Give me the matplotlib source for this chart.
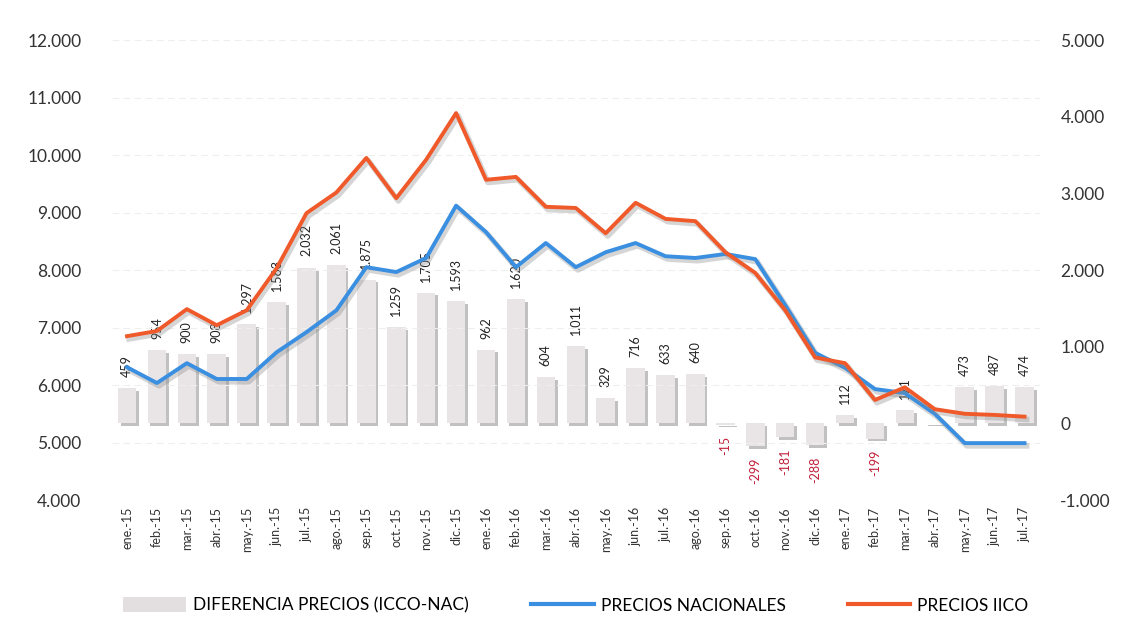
import matplotlib
matplotlib.use("Agg")
import matplotlib.pyplot as plt
import matplotlib.patheffects as pe
from matplotlib.ticker import FuncFormatter, MultipleLocator
from matplotlib.patches import Patch
from matplotlib.lines import Line2D

months = ["ene.-15", "feb.-15", "mar.-15", "abr.-15", "may.-15", "jun.-15", "jul.-15",
          "ago.-15", "sep.-15", "oct.-15", "nov.-15", "dic.-15", "ene.-16", "feb.-16",
          "mar.-16", "abr.-16", "may.-16", "jun.-16", "jul.-16", "ago.-16", "sep.-16",
          "oct.-16", "nov.-16", "dic.-16", "ene.-17", "feb.-17", "mar.-17", "abr.-17",
          "may.-17", "jun.-17", "jul.-17"]

diferencia = [459, 954, 900, 908, 1297, 1583, 2032, 2061, 1875, 1259, 1705, 1593, 962,
              1620, 604, 1011, 329, 716, 633, 640, -15, -299, -181, -288, 112, -199,
              171, 9, 473, 487, 474]

nacionales = [6310, 6035, 6380, 6105, 6105, 6570, 6920, 7300, 8050, 7965, 8210, 9120,
              8660, 8050, 8470, 8050, 8310, 8470, 8240, 8210, 8280, 8190, 7390, 6560,
              6300, 5930, 5860, 5500, 4990, 4990, 4990]

iico = [6850, 6940, 7320, 7040, 7300, 8030, 8990, 9350, 9950, 9250, 9920, 10730, 9570,
        9620, 9100, 9080, 8640, 9170, 8890, 8850, 8310, 7950, 7300, 6480, 6380, 5740,
        5960, 5580, 5500, 5480, 5450]

plt.rcParams['font.family'] = ['Lato', 'DejaVu Sans']

fig = plt.figure(figsize=(11.25, 6.36), dpi=100)
ax_bar = fig.add_axes([0.0996, 0.2138, 0.8244, 0.7232])
ax_line = ax_bar.twinx()

x = list(range(len(months)))

def fmt(v, pos):
    return f"{int(round(v)):,}".replace(",", ".")

# Bars (right axis)
ax_bar.bar(x, diferencia, width=0.62, color="#e9e5e6", zorder=2,
           path_effects=[pe.SimplePatchShadow(offset=(2, -2), shadow_rgbFace="#777777", alpha=0.45),
                         pe.Normal()])
ax_bar.set_ylim(-1000, 5000)
ax_bar.set_xlim(-0.5, len(months) - 0.5)
ax_bar.yaxis.tick_right()
ax_bar.yaxis.set_major_locator(MultipleLocator(1000))
ax_bar.yaxis.set_major_formatter(FuncFormatter(fmt))

for xi, v in zip(x, diferencia):
    if v >= 0:
        ax_bar.annotate(fmt(v, None), (xi, v), xytext=(0, 8), textcoords="offset points",
                        rotation=90, ha="center", va="bottom", fontsize=9, color="#222222")
    else:
        ax_bar.annotate(fmt(v, None), (xi, v), xytext=(0, -8), textcoords="offset points",
                        rotation=90, ha="center", va="top", fontsize=9, color="#c0203a")

# Lines (left axis)
shadow = [pe.SimpleLineShadow(offset=(1.5, -2), shadow_color="#888888", alpha=0.35, linewidth=4), pe.Normal()]
ax_line.plot(x, nacionales, color="#3a8fe0", lw=2.8, zorder=3, path_effects=shadow)
ax_line.plot(x, iico, color="#f0592a", lw=2.8, zorder=3, path_effects=shadow)
ax_line.set_ylim(4000, 12000)
ax_line.yaxis.tick_left()
ax_line.yaxis.set_major_locator(MultipleLocator(1000))
ax_line.yaxis.set_major_formatter(FuncFormatter(fmt))
for yv in range(5000, 12001, 1000):
    ax_line.axhline(yv, color="#eeeeee", lw=0.8, ls=(0, (6, 4)), zorder=0)

for a in (ax_bar, ax_line):
    for s in a.spines.values():
        s.set_visible(False)
    a.tick_params(axis="both", length=0)
ax_bar.tick_params(axis="y", labelsize=12.5, colors="#333333", pad=15)
ax_line.tick_params(axis="y", labelsize=12.5, colors="#333333", pad=22)

ax_bar.set_xticks(x)
ax_bar.set_xticklabels(months, rotation=90, fontsize=9, color="#333333")
ax_bar.tick_params(axis="x", pad=5)

handles = [Patch(facecolor="#e3dfe0", edgecolor="none"),
           Line2D([0], [0], color="#3a8fe0", lw=3),
           Line2D([0], [0], color="#f0592a", lw=3)]
labels = ["DIFERENCIA PRECIOS (ICCO-NAC)", "PRECIOS NACIONALES", "PRECIOS IICO"]
fig.legend(handles, labels, loc="center", bbox_to_anchor=(0.512, 0.048), ncol=3, frameon=False,
           fontsize=12.5, handlelength=3.6, handleheight=0.9, columnspacing=3.6, handletextpad=0.4)

fig.savefig("out.png", dpi=100, facecolor="white")
